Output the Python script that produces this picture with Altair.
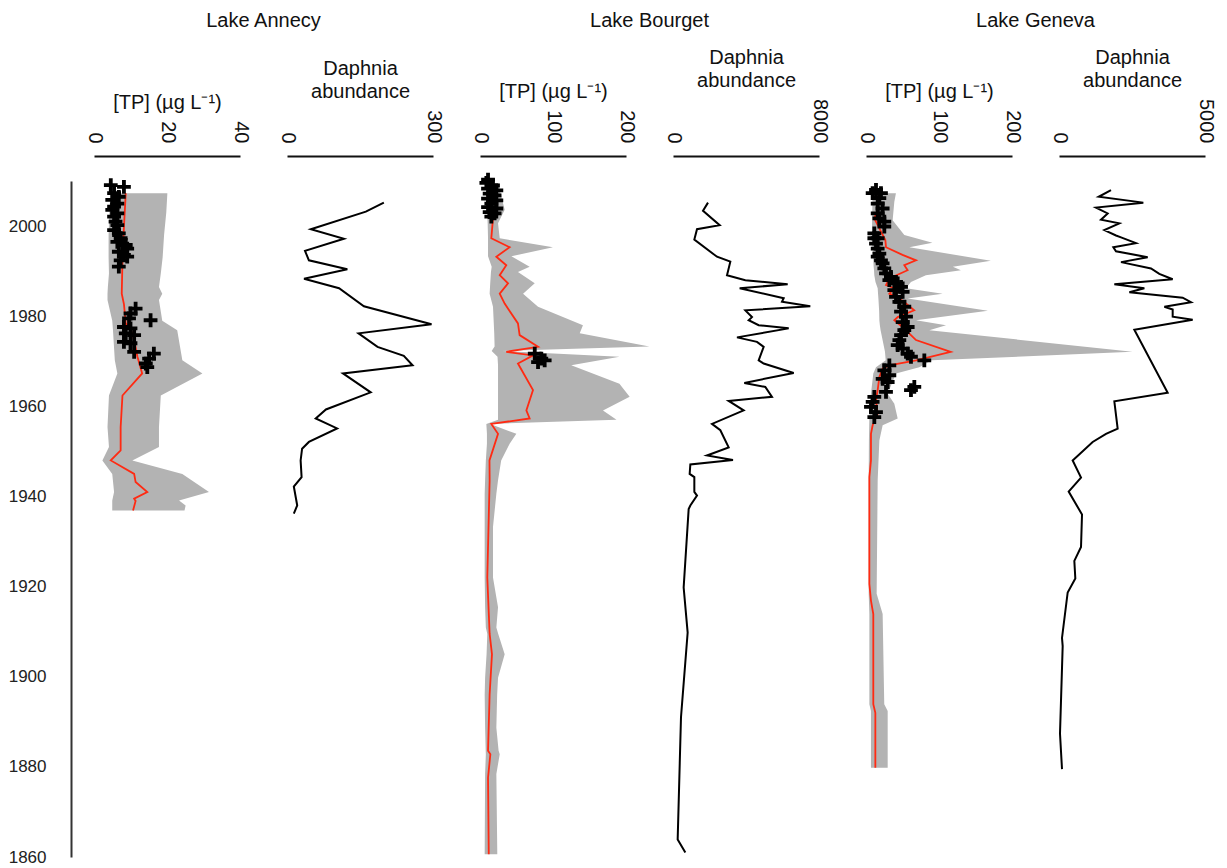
import altair as alt
import pandas as pd

# ---------------- Lake Annecy ----------------
ann_tp_year = [2007.3, 1999.8, 1992.4, 1985.0, 1982.7, 1978.4, 1977.3, 1974.7, 1971.0, 1967.3,
               1962.4, 1955.4, 1950.2, 1948.0, 1945.0, 1943.2, 1941.0, 1939.5, 1939.0, 1936.9]
ann_tp_val = [8.7, 8.2, 7.8, 7.6, 8.2, 8.7, 10.0, 11.0, 11.9, 13.2,
              7.8, 7.3, 7.3, 4.6, 11.0, 11.4, 14.6, 11.0, 11.4, 10.7]

ann_band_year = [2007.3, 2003.0, 1998.0, 1993.0, 1989.5, 1986.5, 1985.0, 1983.6, 1979.0, 1976.9,
                 1970.2, 1967.3, 1962.4, 1955.4, 1951.0, 1948.0, 1945.0, 1941.0, 1939.1, 1938.0, 1936.9]
ann_band_lo = [4.5, 4.2, 4.0, 4.0, 4.1, 3.8, 3.7, 3.7, 5.0, 5.2,
               5.7, 6.4, 4.1, 3.7, 4.1, 2.3, 5.0, 5.5, 5.0, 5.0, 5.0]
ann_band_hi = [20.1, 19.8, 19.2, 18.8, 18.3, 17.8, 18.7, 17.8, 18.7, 22.8,
               24.2, 29.7, 18.3, 17.8, 17.8, 10.5, 24.2, 31.5, 23.3, 25.1, 24.8]

ann_obs_year = [2009.1, 2008.7, 2007.3, 2006.5, 2005.8, 2005.0, 2004.3, 2003.6, 2002.8, 2002.1,
                2001.0, 2000.2, 1999.1, 1998.4, 1997.3, 1996.5, 1995.8, 1995.0, 1994.3, 1993.6,
                1993.2, 1992.4, 1991.0,
                1981.7, 1980.6, 1979.1, 1979.5, 1977.6, 1977.3, 1976.2, 1975.8, 1974.3, 1974.0,
                1972.1, 1971.7, 1970.6, 1969.5, 1968.7]
ann_obs_val = [4.6, 8.2, 5.5, 6.8, 5.0, 6.4, 5.5, 5.0, 6.4, 5.5,
               5.9, 6.4, 5.5, 6.8, 7.3, 6.4, 8.7, 9.1, 6.8, 8.2,
               9.1, 7.3, 6.8,
               11.4, 10.0, 15.5, 9.6, 8.2, 10.0, 8.7, 11.0, 8.2, 10.0,
               11.0, 16.4, 15.1, 14.2, 14.6]

ann_daph_year = [2005.2, 2003.2, 1999.3, 1997.2, 1994.5, 1992.4, 1990.4, 1988.3, 1986.2, 1982.2,
                 1978.2, 1976.2, 1973.2, 1971.2, 1969.1, 1967.3, 1963.1, 1959.3, 1957.3, 1955.1,
                 1952.1, 1950.6, 1948.0, 1944.3, 1942.2, 1938.0, 1936.2]
ann_daph_val = [199, 162, 49, 117, 37, 45, 124, 35, 107, 158,
                297, 147, 186, 240, 258, 115, 172, 80, 59, 103,
                45, 31, 28, 30, 14, 21, 14]

# ---------------- Lake Bourget ----------------
bou_tp_year = [2009.5, 2001.7, 1997.3, 1995.3, 1993.2, 1991.3, 1989.1, 1987.3, 1985.0, 1982.8,
               1978.4, 1975.8, 1973.2, 1972.1, 1971.3, 1969.5, 1963.6, 1959.1, 1957.3, 1956.1,
               1953.9, 1948.0, 1943.6, 1922.0, 1909.5, 1905.0, 1896.1, 1883.6, 1882.8, 1877.6, 1860.6]
bou_tp_val = [13.2, 17.8, 15.5, 40.6, 22.4, 36.0, 27.0, 38.4, 27.0, 33.8,
              52.0, 54.3, 79.5, 36.0, 72.6, 52.0, 72.6, 63.5, 68.0, 15.5,
              24.7, 13.0, 13.2, 10.0, 13.2, 16.4, 13.2, 11.0, 14.2, 11.0, 12.0]

bou_band_year = [2009.5, 2003.6, 2000.6, 1997.3, 1995.3, 1993.3, 1991.0, 1989.8, 1987.3, 1985.0,
                 1982.1, 1978.0, 1976.2, 1973.3, 1972.3, 1971.0, 1969.1, 1965.0, 1962.1, 1959.1,
                 1957.0, 1956.1, 1953.9, 1951.7, 1948.0, 1943.6, 1940.6, 1933.2, 1922.0, 1915.4,
                 1910.9, 1909.5, 1905.0, 1899.8, 1896.0, 1888.7, 1883.6, 1882.8, 1878.4, 1860.6]
bou_band_lo = [8.7, 9.5, 10.5, 11.0, 11.0, 11.0, 16.0, 15.0, 14.0, 13.2,
               17.8, 19.0, 19.5, 20.0, 16.0, 24.0, 24.7, 24.7, 24.7, 24.7,
               24.7, 8.7, 9.5, 9.5, 8.0, 7.0, 6.4, 6.4, 6.4, 7.0,
               8.0, 10.0, 9.0, 7.0, 6.4, 7.0, 7.8, 8.0, 7.0, 6.4]
bou_band_hi = [24.7, 33.8, 24.7, 27.0, 100.0, 43.0, 68.0, 52.0, 75.0, 59.0,
               79.5, 141.0, 136.6, 232.0, 30.0, 191.0, 125.0, 191.0, 205.0, 168.5,
               187.0, 14.0, 49.8, 40.6, 29.0, 24.7, 22.4, 17.8, 17.8, 24.7,
               22.4, 25.0, 33.8, 24.7, 23.5, 22.4, 25.5, 27.0, 22.4, 23.7]

bou_obs_year = [2010.3, 2009.6, 2009.0, 2008.3, 2007.9, 2007.2, 2006.8, 2006.1, 2005.7, 2005.0,
                2004.2, 2003.9, 2003.1, 2002.8, 2002.1, 1971.7, 1970.6, 1969.8, 1970.2]
bou_obs_val = [11.0, 8.7, 17.8, 11.0, 22.4, 13.2, 20.0, 11.0, 22.4, 15.5,
               11.0, 22.4, 13.2, 20.0, 15.5, 75.0, 84.0, 79.5, 88.6]

bou_daph_year = [2005.2, 2003.4, 2000.2, 1999.3, 1997.0, 1993.2, 1992.1, 1989.1, 1988.0, 1987.1,
                 1986.2, 1984.0, 1983.2, 1982.2, 1981.3, 1979.8, 1979.1, 1978.0, 1977.3, 1975.3,
                 1974.3, 1973.2, 1970.2, 1969.5, 1967.4, 1965.2, 1964.3, 1962.1, 1961.2, 1959.1,
                 1956.1, 1954.7, 1950.9, 1949.1, 1948.1, 1947.1, 1945.0, 1944.3, 1941.0, 1940.2,
                 1938.0, 1937.2, 1919.8, 1909.8, 1891.0, 1863.9, 1861.0]
bou_daph_val = [1918, 1644, 2558, 1315, 1169, 2411, 3141, 2959, 3963, 6284,
                3653, 6065, 5972, 7523, 3963, 4328, 4146, 4694, 6339, 3507,
                4602, 4968, 4694, 4968, 6613, 3908, 5059, 5424, 3050, 3872,
                2137, 2594, 3050, 1863, 3287, 950, 913, 1169, 1169, 1315,
                950, 858, 584, 803, 438, 256, 676]

# ---------------- Lake Geneva ----------------
gen_tp_year = [2007.3, 2003.6, 2001.7, 1999.5, 1996.9, 1995.3, 1993.6, 1992.4, 1991.3, 1990.2,
               1988.4, 1986.9, 1986.2, 1985.0, 1983.9, 1982.8, 1981.3, 1979.8, 1979.1, 1977.6,
               1974.7, 1972.1, 1970.2, 1969.1, 1968.4, 1966.5, 1963.6, 1961.3, 1958.4, 1955.8,
               1953.9, 1948.0, 1944.3, 1920.6, 1916.9, 1913.9, 1893.9, 1892.0, 1879.8]
gen_tp_val = [17.4, 16.0, 11.4, 18.3, 26.5, 27.4, 50.0, 68.5, 52.5, 57.0,
              32.0, 27.4, 38.8, 32.0, 45.6, 54.8, 66.0, 43.4, 38.8, 50.0,
              68.5, 116.0, 68.5, 32.0, 22.8, 18.3, 16.0, 13.7, 16.0, 9.1,
              6.8, 6.8, 4.6, 4.6, 6.8, 10.0, 10.0, 12.8, 12.8]

gen_band_year = [2007.3, 2005.4, 2001.3, 1998.0, 1996.3, 1995.3, 1992.3, 1991.0, 1990.2, 1989.1,
                 1987.6, 1986.2, 1985.0, 1983.9, 1981.2, 1979.1, 1978.0, 1976.9, 1972.1, 1970.2,
                 1968.7, 1967.3, 1962.8, 1960.6, 1957.3, 1955.8, 1952.4, 1943.6, 1918.4, 1913.9,
                 1893.9, 1892.4, 1879.8]
gen_band_lo = [9.1, 8.8, 8.4, 8.0, 8.5, 9.0, 10.0, 10.5, 11.0, 11.4,
               13.0, 16.0, 16.5, 17.0, 18.0, 18.3, 19.0, 20.0, 26.0, 27.0,
               13.7, 10.0, 6.8, 5.5, 4.6, 4.4, 4.0, 3.7, 3.7, 4.6,
               4.6, 6.8, 6.8]
gen_band_hi = [41.0, 38.8, 36.5, 52.5, 91.0, 59.4, 171.0, 119.0, 130.0, 82.0,
               61.6, 54.8, 105.0, 57.0, 167.0, 68.5, 109.6, 86.7, 365.0, 90.0,
               73.0, 41.0, 29.7, 38.8, 43.4, 22.8, 18.3, 16.0, 14.6, 22.8,
               25.0, 29.7, 29.7]

gen_obs_year = [2008.0, 2007.3, 2007.3, 2006.2, 2005.0, 2003.9, 2002.8, 2001.7, 2001.0, 1999.9,
                1998.4, 1997.3, 1997.3, 1996.1, 1995.0, 1993.9, 1993.2, 1992.4, 1991.7, 1990.6,
                1989.5, 1988.7, 1988.0, 1987.3, 1986.5, 1985.8, 1985.4, 1984.3, 1983.2, 1982.1,
                1981.0, 1979.9, 1978.7, 1977.6, 1976.9, 1975.8, 1974.7, 1973.6, 1972.8, 1971.7,
                1971.0, 1970.2, 1969.1, 1968.0, 1966.9, 1966.1, 1965.4, 1964.3, 1963.6, 1963.2,
                1962.1, 1961.0, 1959.9, 1958.7, 1957.6]
gen_obs_val = [13.7, 9.1, 20.5, 18.3, 16.0, 22.8, 16.0, 18.3, 25.1, 25.1,
               11.4, 11.4, 16.0, 13.7, 16.0, 18.3, 16.0, 20.5, 22.8, 25.1,
               27.4, 34.2, 32.0, 43.4, 48.0, 38.8, 50.2, 41.1, 45.7, 52.5,
               48.0, 54.8, 50.2, 57.1, 52.5, 48.0, 45.7, 43.4, 50.2, 57.1,
               61.6, 79.9, 32.0, 25.1, 32.0, 22.8, 29.7, 66.2, 61.6, 27.4,
               11.4, 9.1, 6.8, 13.7, 11.4]

gen_daph_year = [2008.0, 2006.5, 2005.2, 2004.1, 2002.8, 2001.4, 2000.6, 1999.1, 1997.9, 1997.5,
                 1996.2, 1995.3, 1994.4, 1993.1, 1992.0, 1990.6, 1989.4, 1988.2, 1987.1, 1986.2,
                 1985.3, 1984.1, 1983.1, 1982.1, 1981.5, 1979.9, 1979.2, 1977.0, 1963.0, 1961.1,
                 1955.05, 1953.9, 1952.1, 1948.0, 1944.2, 1941.1, 1936.0, 1928.8, 1925.7, 1921.8,
                 1918.7, 1908.6, 1906.8, 1887.4, 1879.5]
gen_daph_val = [1781, 1359, 2888, 1267, 1667, 1438, 2066, 1553, 1952, 2124,
                2637, 1861, 1952, 3037, 2124, 3151, 3436, 3893, 1895, 2923,
                2409, 4235, 4521, 3608, 3893, 3893, 4578, 2580, 3722, 1895,
                2009, 1610, 1153, 468, 754, 331, 788, 754, 525, 559,
                297, 103, 126, 34, 103]

lakes = ["Lake Annecy", "Lake Bourget", "Lake Geneva"]
tp_ticks = [[0, 20, 40], [0, 100, 200], [0, 100, 200]]
daph_ticks = [[0, 300], [0, 8000], [0, 5000]]
year_ticks = [1860, 1880, 1900, 1920, 1940, 1960, 1980, 2000]

# ---------------- styling ----------------
W, H, GAP = 146, 676, 47
FONT = "Liberation Sans"
RED = "#ff2a12"
GREY = "#b3b3b3"
YDOM = [1860, 2010]


def y_enc(show):
    if show:
        axis = alt.Axis(values=year_ticks, format="d", offset=23, ticks=False, labelPadding=25,
                        labelFontSize=17, labelColor="#222222", domainColor="#333333",
                        domainWidth=2, grid=False, title=None)
    else:
        axis = None
    return alt.Y("year:Q", scale=alt.Scale(domain=YDOM, nice=False, zero=False), axis=axis)


def x_axis(values, title):
    return alt.Axis(orient="top", values=values, format="d", offset=25, ticks=False, labelAngle=90,
                    labelAlign="right", labelBaseline="middle", labelPadding=13,
                    labelFontSize=20, labelColor="#111111", labelFlush=False, labelOverlap=False,
                    title=title, titleFontSize=20, titleFontWeight="normal", titleColor="#111111",
                    titlePadding=8, titleLineHeight=23, domainColor="#111111", domainWidth=2,
                    grid=False)


def x_enc(field, dom, ticks, title):
    return alt.X(field + ":Q", scale=alt.Scale(domain=dom, nice=False, zero=False),
                 axis=x_axis(ticks, title))


TP_TITLE = "[TP] (µg L⁻¹)"
DAPH_TITLE = ["Daphnia", "abundance"]

tp_sets = [
    (ann_tp_year, ann_tp_val, ann_band_year, ann_band_lo, ann_band_hi, ann_obs_year, ann_obs_val),
    (bou_tp_year, bou_tp_val, bou_band_year, bou_band_lo, bou_band_hi, bou_obs_year, bou_obs_val),
    (gen_tp_year, gen_tp_val, gen_band_year, gen_band_lo, gen_band_hi, gen_obs_year, gen_obs_val),
]
daph_sets = [(ann_daph_year, ann_daph_val), (bou_daph_year, bou_daph_val), (gen_daph_year, gen_daph_val)]

panels = []
for i in range(3):
    ty, tv, by, blo, bhi, oy, ov = tp_sets[i]
    tdom = [tp_ticks[i][0], tp_ticks[i][-1]]
    show = i == 0
    band = alt.Chart(pd.DataFrame({"year": by, "lo": blo, "hi": bhi})).mark_area(
        orient="horizontal", color=GREY, clip=False
    ).encode(
        y=y_enc(show),
        x=x_enc("lo", tdom, tp_ticks[i], TP_TITLE),
        x2="hi:Q",
    )
    line = alt.Chart(pd.DataFrame({"year": ty, "tp": tv})).mark_line(
        color=RED, strokeWidth=1.8, clip=False
    ).encode(
        y=y_enc(show),
        x=x_enc("tp", tdom, tp_ticks[i], TP_TITLE),
        order="year:Q",
    )
    obs = alt.Chart(pd.DataFrame({"year": oy, "tp": ov})).mark_point(
        shape="M-1,0H1M0,-1V1", filled=False, color="black", strokeWidth=3.8, size=190,
        opacity=1, clip=False
    ).encode(
        y=y_enc(show),
        x=x_enc("tp", tdom, tp_ticks[i], TP_TITLE),
    )
    label = alt.Chart(pd.DataFrame({"lake": [lakes[i]]})).mark_text(
        fontSize=20, font=FONT, color="#111111", align="center", baseline="middle", clip=False
    ).encode(
        text="lake:N",
        x=alt.value(W + GAP / 2),
        y=alt.value(-160),
    )
    panels.append(alt.layer(band, line, obs, label).properties(width=W, height=H))

    dy, dv = daph_sets[i]
    ddom = [daph_ticks[i][0], daph_ticks[i][-1]]
    daph = alt.Chart(pd.DataFrame({"year": dy, "d": dv})).mark_line(
        color="black", strokeWidth=2, clip=False
    ).encode(
        y=y_enc(False),
        x=x_enc("d", ddom, daph_ticks[i], DAPH_TITLE),
        order="year:Q",
    ).properties(width=W, height=H)
    panels.append(daph)

chart = alt.HConcatChart(hconcat=panels, spacing=GAP, bounds="flush").resolve_scale(
    x="independent"
).configure(font=FONT).configure_view(stroke=None).properties(
    padding={"left": 0, "top": 3, "right": 4, "bottom": 0}
)

chart.save("out.html", embed_options={"renderer": "svg", "actions": False})
